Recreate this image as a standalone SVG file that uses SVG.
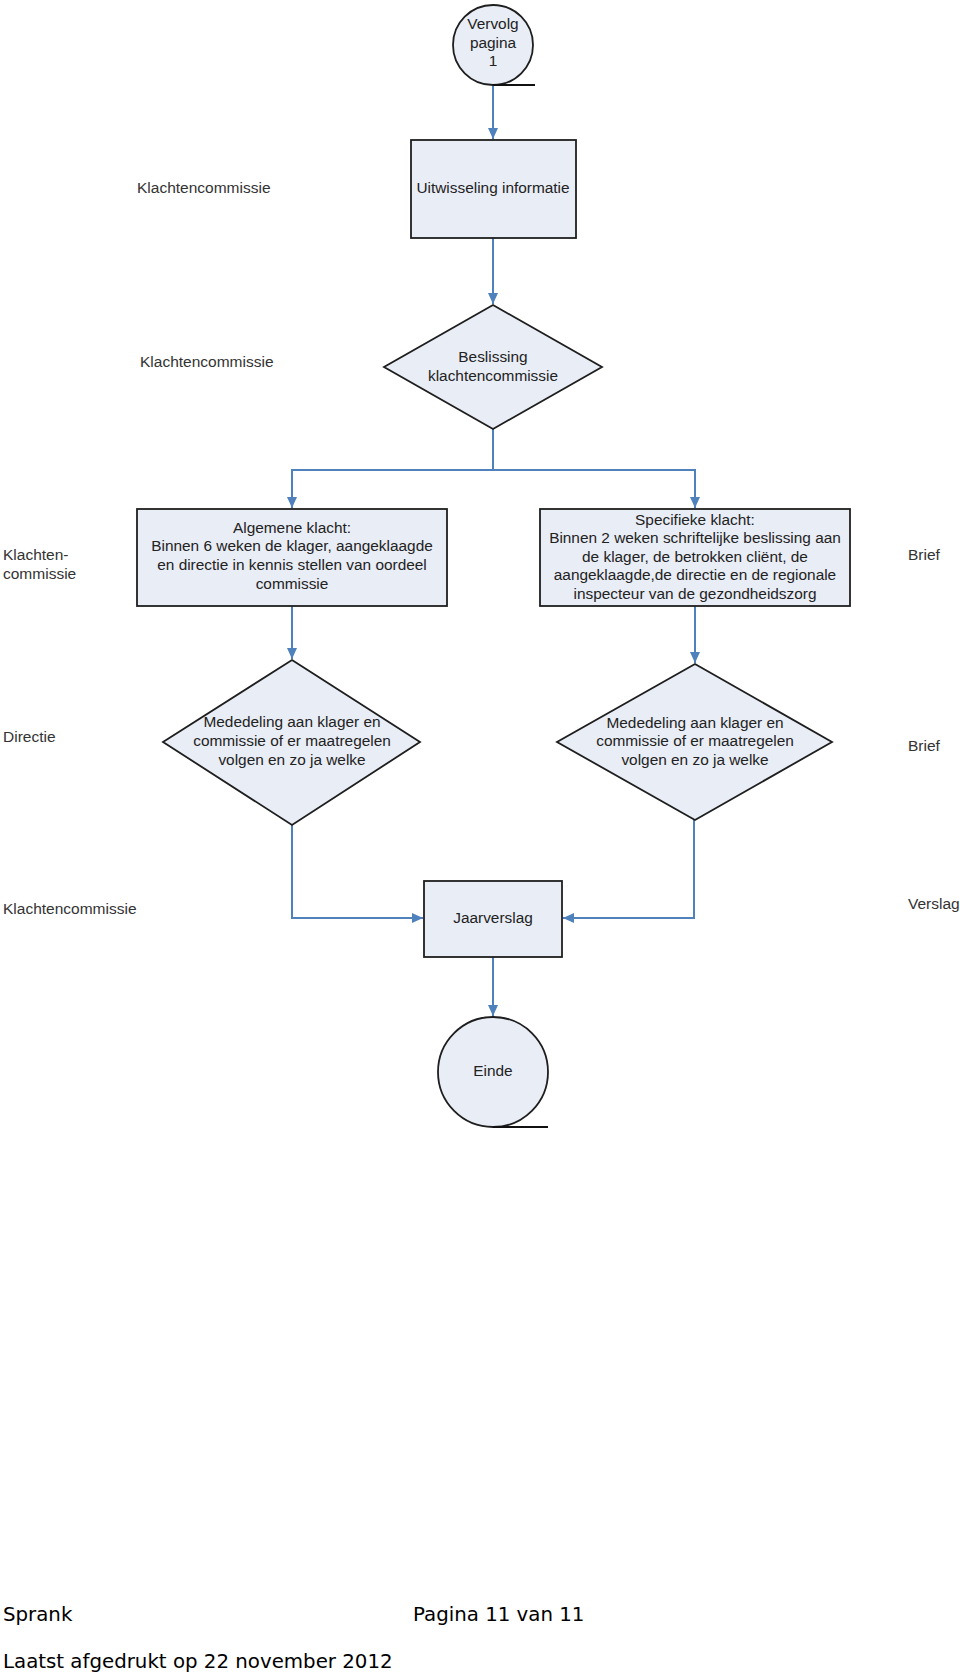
<svg xmlns="http://www.w3.org/2000/svg" width="960" height="1677" viewBox="0 0 960 1677">
<style>
.shape{fill:#E9EDF6;stroke:#1e1e1e;stroke-width:1.8}
.t{font-family:"Liberation Sans",Arial,sans-serif;font-size:15.4px;fill:#222;text-anchor:middle}
.lbl{font-family:"Liberation Sans",Arial,sans-serif;font-size:15.5px;fill:#333}
.conn{fill:none;stroke:#4F81BD;stroke-width:2}
.ul{stroke:#111;stroke-width:2}
.foot{font-family:"DejaVu Sans",Verdana,sans-serif;font-size:19.8px;fill:#000}
</style>
<defs>
<marker id="arr" markerUnits="userSpaceOnUse" markerWidth="12" markerHeight="12" viewBox="0 0 12 12" refX="11" refY="6" orient="auto">
<path d="M0,1 L11,6 L0,11 z" fill="#4F81BD"/>
</marker>
</defs>
<rect width="960" height="1677" fill="#fff"/>

<g id="connectors">
<path class="conn" d="M493,85 L493,139" marker-end="url(#arr)"/>
<path class="conn" d="M493,238 L493,304" marker-end="url(#arr)"/>
<path class="conn" d="M493,429 L493,470"/>
<path class="conn" d="M493,470 L292,470 L292,508" marker-end="url(#arr)"/>
<path class="conn" d="M493,470 L695,470 L695,508" marker-end="url(#arr)"/>
<path class="conn" d="M292,606 L292,659" marker-end="url(#arr)"/>
<path class="conn" d="M695,606 L695,663" marker-end="url(#arr)"/>
<path class="conn" d="M292,825 L292,918 L423,918" marker-end="url(#arr)"/>
<path class="conn" d="M694,820 L694,918 L563,918" marker-end="url(#arr)"/>
<path class="conn" d="M493,957 L493,1016" marker-end="url(#arr)"/>
</g>

<g id="start">
<circle class="shape" cx="493" cy="45" r="40"/>
<line class="ul" x1="493" y1="85" x2="535" y2="85"/>
<text class="t" x="493" y="29">Vervolg</text>
<text class="t" x="493" y="48">pagina</text>
<text class="t" x="493" y="66">1</text>
</g>

<g id="uitwisseling">
<rect class="shape" x="411" y="140" width="165" height="98"/>
<text class="t" x="493" y="193">Uitwisseling informatie</text>
</g>

<g id="beslissing">
<polygon class="shape" points="493,305 602,367 493,429 384,367"/>
<text class="t" x="493" y="362">Beslissing</text>
<text class="t" x="493" y="381">klachtencommissie</text>
</g>

<g id="algemeen">
<rect class="shape" x="137" y="509" width="310" height="97"/>
<text class="t" x="292" y="533">Algemene klacht:</text>
<text class="t" x="292" y="551">Binnen 6 weken de klager, aangeklaagde</text>
<text class="t" x="292" y="570">en directie in kennis stellen van oordeel</text>
<text class="t" x="292" y="589">commissie</text>
</g>

<g id="specifiek">
<rect class="shape" x="540" y="509" width="310" height="97"/>
<text class="t" x="695" y="524.5">Specifieke klacht:</text>
<text class="t" x="695" y="543">Binnen 2 weken schriftelijke beslissing aan</text>
<text class="t" x="695" y="561.5">de klager, de betrokken cliënt, de</text>
<text class="t" x="695" y="580">aangeklaagde,de directie en de regionale</text>
<text class="t" x="695" y="598.5">inspecteur van de gezondheidszorg</text>
</g>

<g id="mededeling-links">
<polygon class="shape" points="292,660 420,742 292,825 163,742"/>
<text class="t" x="292" y="727">Mededeling aan klager en</text>
<text class="t" x="292" y="746">commissie of er maatregelen</text>
<text class="t" x="292" y="765">volgen en zo ja welke</text>
</g>

<g id="mededeling-rechts">
<polygon class="shape" points="695,664 832,742 695,820 557,742"/>
<text class="t" x="695" y="728">Mededeling aan klager en</text>
<text class="t" x="695" y="746">commissie of er maatregelen</text>
<text class="t" x="695" y="765">volgen en zo ja welke</text>
</g>

<g id="jaarverslag">
<rect class="shape" x="424" y="881" width="138" height="76"/>
<text class="t" x="493" y="923">Jaarverslag</text>
</g>

<g id="einde">
<circle class="shape" cx="493" cy="1072" r="55"/>
<line class="ul" x1="493" y1="1127" x2="548" y2="1127"/>
<text class="t" x="493" y="1076">Einde</text>
</g>

<g id="labels">
<text class="lbl" x="137" y="193">Klachtencommissie</text>
<text class="lbl" x="140" y="367">Klachtencommissie</text>
<text class="lbl" x="3" y="560">Klachten-</text>
<text class="lbl" x="3" y="579">commissie</text>
<text class="lbl" x="3" y="742">Directie</text>
<text class="lbl" x="3" y="914">Klachtencommissie</text>
<text class="lbl" x="908" y="560">Brief</text>
<text class="lbl" x="908" y="751">Brief</text>
<text class="lbl" x="908" y="909">Verslag</text>
</g>

<g id="footer">
<text class="foot" x="3" y="1621">Sprank</text>
<text class="foot" x="413" y="1621">Pagina 11 van 11</text>
<text class="foot" x="3" y="1668">Laatst afgedrukt op 22 november 2012</text>
</g>
</svg>
